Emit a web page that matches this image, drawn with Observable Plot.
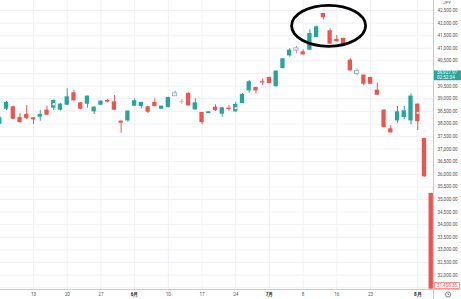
<!DOCTYPE html>
<html><head><meta charset="utf-8">
<script src="https://cdn.jsdelivr.net/npm/d3@7"></script>
<script src="https://cdn.jsdelivr.net/npm/@observablehq/plot@0.6"></script>
<style>
html,body{margin:0;padding:0;background:#fff;overflow:hidden}
#chart svg{display:block}
</style></head><body><div id="chart"></div>
<script>
const dates = [
"2024-05-02","2024-05-07","2024-05-08","2024-05-09","2024-05-10",
"2024-05-13","2024-05-14","2024-05-15","2024-05-16","2024-05-17",
"2024-05-20","2024-05-21","2024-05-22","2024-05-23","2024-05-24",
"2024-05-27","2024-05-28","2024-05-29","2024-05-30","2024-05-31",
"2024-06-03","2024-06-04","2024-06-05","2024-06-06","2024-06-07",
"2024-06-10","2024-06-11","2024-06-12","2024-06-13","2024-06-14",
"2024-06-17","2024-06-18","2024-06-19","2024-06-20","2024-06-21",
"2024-06-24","2024-06-25","2024-06-26","2024-06-27","2024-06-28",
"2024-07-01","2024-07-02","2024-07-03","2024-07-04","2024-07-05",
"2024-07-08","2024-07-09","2024-07-10","2024-07-11","2024-07-12",
"2024-07-16","2024-07-17","2024-07-18","2024-07-19",
"2024-07-22","2024-07-23","2024-07-24","2024-07-25","2024-07-26",
"2024-07-29","2024-07-30","2024-07-31","2024-08-01","2024-08-02",
"2024-08-05"];
const open = [
38004,38599,38663,38242,38361,
38226,38282,38532,38639,38560,
38758,39218,38821,38798,38493,
38758,38917,38861,38095,38135,
38718,38702,38663,38837,38599,
38663,39120,38861,39194,38571,
38440,38425,38651,38401,38611,
38493,38821,39325,39432,39663,
39829,39496,40210,40714,40932,
40845,40940,41440,42369,41678,
41337,41377,40516,40000,
39921,39829,39325,38532,37790,
38135,38266,38135,38770,37409,
35226];
const high = [
38294,38889,38710,38401,38730,
38254,38532,38702,38948,38810,
39393,39325,38849,39107,38671,
38909,38968,39127,38116,38512,
38996,38858,38690,38996,38710,
39056,39298,38968,39235,38996,
38453,38484,38758,38643,38730,
38861,39206,39722,39444,39790,
39849,40099,40587,40981,41083,
40940,41735,41858,42389,41774,
41508,41397,40583,40186,
39940,39849,39616,38552,37937,
38690,38690,39194,38790,37429,
35246];
const low = [
37976,38532,38175,38036,38175,
37976,38107,38333,38532,38512,
38730,38909,38571,38624,38373,
38730,38837,38532,37631,38067,
38690,38599,38413,38683,38571,
38643,39099,38770,38710,38552,
37964,38405,38493,38266,38504,
38472,38810,39218,39194,39524,
39595,39456,40190,40647,40782,
40735,40921,41421,42123,41159,
41250,41159,40099,39893,
39524,39571,39135,37849,37639,
38028,38175,37964,37738,35893,
31440];
const close = [
38226,38837,38202,38067,38226,
38175,38361,38361,38917,38770,
39060,38929,38599,39087,38651,
38889,38878,38560,38044,38493,
38901,38837,38480,38702,38690,
39036,39189,38861,38730,38821,
38067,38464,38544,38622,38587,
38758,39155,39655,39325,39643,
39616,40079,40567,40913,40973,
40754,41575,41837,42235,41179,
41270,41179,40120,40079,
39591,39591,39155,37869,37659,
38464,38504,39087,38107,35913,
31458.35];

const dayTickDates = ["2024-05-13","2024-05-20","2024-05-27","2024-06-10","2024-06-17","2024-06-24","2024-07-08","2024-07-16","2024-07-23"];
const dayTickLabels = ["13","20","27","10","17","24","8","16","23"];
const monthTickDates = ["2024-06-03","2024-07-01","2024-08-01"];
const monthTickLabels = ["6月","7月","8月"];
const yTicks = d3.range(31500, 43001, 500);
const hiddenYLabels = [40000];
const currency = "JPY";
const markerDates = ["2024-05-16","2024-06-24","2024-08-01"];
const hollowDates = ["2024-06-11","2024-07-05","2024-07-19"];
const lastPrice = 39927.97;
const lastPriceTime = "02:52:34";
const closePrice = 31458.35;
const circledDate = "2024-07-12";
const circledValue = 41873;

// styles
const UP = "#26a69a", DOWN = "#ef5350", FLAT = "#b2b5be";
const hollowColors = ["#8fa1c8", "#b98acb", "#8fa6d6"];
const GRID = "#eef0f4", AXIS = "#c9cbd1", TEXT = "#50535e";

const data = dates.map((date, i) => ({date, open: open[i], high: high[i], low: low[i], close: close[i]}));
const hollowColor = d => hollowColors[hollowDates.indexOf(d.date)];
const candleColor = d => hollowDates.includes(d.date) ? hollowColor(d) : d.close > d.open ? UP : d.close < d.open ? DOWN : FLAT;
const solid = data.filter(d => !hollowDates.includes(d.date));
const hollow = data.filter(d => hollowDates.includes(d.date));
const fmt = d3.format(",.2f");
const dayLabel = new Map(dayTickDates.map((d, i) => [d, dayTickLabels[i]]));
const monthLabel = new Map(monthTickDates.map((d, i) => [d, monthTickLabels[i]]));
const yLabelTicks = yTicks.filter(v => !hiddenYLabels.includes(v) && v >= 32000 && v <= 42500);

function bandCenter(sx, v) {
  const bw = typeof sx.bandwidth === "function" ? sx.bandwidth() : 0;
  return sx(v) + bw / 2;
}

function frameLines(index, scales, values, dims) {
  const {width, height, marginRight, marginBottom} = dims;
  const g = d3.create("svg:g");
  const xr = width - marginRight, yb = height - marginBottom;
  g.append("line").attr("x1", xr + 0.5).attr("x2", xr + 0.5).attr("y1", 0).attr("y2", height).attr("stroke", AXIS);
  g.append("line").attr("x1", 0).attr("x2", width).attr("y1", yb + 0.5).attr("y2", yb + 0.5).attr("stroke", AXIS);
  const cx = xr + marginRight / 2 + 1, cy = yb + marginBottom / 2 + 0.5;
  g.append("circle").attr("cx", cx).attr("cy", cy).attr("r", 2.6).attr("fill", "none").attr("stroke", TEXT).attr("stroke-width", 0.7);
  g.append("path").attr("d", `M${cx},${cy - 1.5}V${cy}H${cx + 1.2}`).attr("fill", "none").attr("stroke", TEXT).attr("stroke-width", 0.6);
  g.append("text").attr("x", xr + marginRight / 2).attr("y", 4.2).attr("text-anchor", "middle")
    .attr("font-family", "Roboto, sans-serif").attr("font-size", 4.4).attr("fill", TEXT).text(currency);
  return g.node();
}

function priceLabels(index, scales, values, dims) {
  const {width, height, marginRight, marginBottom} = dims;
  const xr = width - marginRight;
  const yb = height - marginBottom;
  const g = d3.create("svg:g").attr("font-family", "Roboto, sans-serif").attr("font-size", 4.6).attr("text-anchor", "start");
  const yl = scales.y(lastPrice);
  g.append("rect").attr("x", xr + 1).attr("y", yl - 4.4).attr("width", width - xr - 1).attr("height", 9.8).attr("fill", UP);
  g.append("text").attr("x", xr + 4).attr("y", yl - 2).attr("dy", "0.35em").attr("fill", "white").text(fmt(lastPrice));
  g.append("text").attr("x", xr + 4).attr("y", yl + 2.7).attr("dy", "0.35em").attr("fill", "white").text(lastPriceTime);
  const yc = Math.min(scales.y(closePrice), yb - 3.4);
  g.append("rect").attr("x", xr + 1.5).attr("y", yc - 2.9).attr("width", width - xr - 3).attr("height", 5.8)
    .attr("fill", "white").attr("stroke", DOWN).attr("stroke-width", 0.6);
  g.append("text").attr("x", xr + 4).attr("y", yc).attr("dy", "0.35em").attr("fill", DOWN).text(fmt(closePrice));
  return g.node();
}

function circleMark(index, scales) {
  const cx = bandCenter(scales.x, circledDate) - 1;
  const cy = scales.y(circledValue);
  return d3.create("svg:ellipse").attr("cx", cx).attr("cy", cy).attr("rx", 37).attr("ry", 20.5)
    .attr("fill", "none").attr("stroke", "#000").attr("stroke-width", 2.8).node();
}

const chart = Plot.plot({
  width: 461, height: 299,
  marginTop: 0, marginRight: 28, marginBottom: 10, marginLeft: 0,
  style: {background: "white", fontFamily: "Roboto, sans-serif"},
  x: {type: "band", domain: dates, range: [-4.07, 434.1], paddingInner: 0.36, paddingOuter: 0.18, align: 0.5, round: false, label: null},
  y: {domain: [31429, 42897], range: [289, 0], label: null},
  marks: [
    Plot.ruleY(yTicks, {y: d => d, stroke: GRID}),
    Plot.ruleX(dayTickDates.concat(monthTickDates), {x: d => d, stroke: GRID}),
    Plot.ruleX(solid, {x: "date", y1: "low", y2: "high", stroke: candleColor, strokeWidth: 1}),
    Plot.barY(solid, {x: "date", y1: "open", y2: "close", fill: candleColor, insetTop: -0.4, insetBottom: -0.4}),
    Plot.ruleX(hollow, {x: "date", y1: "low", y2: "high", stroke: candleColor, strokeWidth: 1}),
    Plot.barY(hollow, {x: "date", y1: "open", y2: "close", fill: "white", stroke: candleColor, strokeWidth: 0.8, insetTop: -0.6, insetBottom: -0.6}),
    Plot.dot(data.filter(d => markerDates.includes(d.date)), {x: "date", y: d => (d.open + d.close) / 2, r: 1.2, fill: "white"}),
    Plot.axisY(yLabelTicks, {anchor: "right", label: null, tickSize: 0, tickPadding: 4, tickFormat: fmt, fontSize: 4.6, fill: TEXT}),
    Plot.axisX(dayTickDates, {label: null, tickSize: 0, tickPadding: 3.5, tickFormat: d => dayLabel.get(d), fontSize: 4.6, fill: TEXT}),
    Plot.axisX(monthTickDates, {label: null, tickSize: 0, tickPadding: 3.5, tickFormat: d => monthLabel.get(d), fontSize: 4.6, fontWeight: "bold", fill: "#131722"}),
    frameLines,
    priceLabels,
    circleMark
  ]
});
document.getElementById("chart").appendChild(chart);
</script>
</body></html>
